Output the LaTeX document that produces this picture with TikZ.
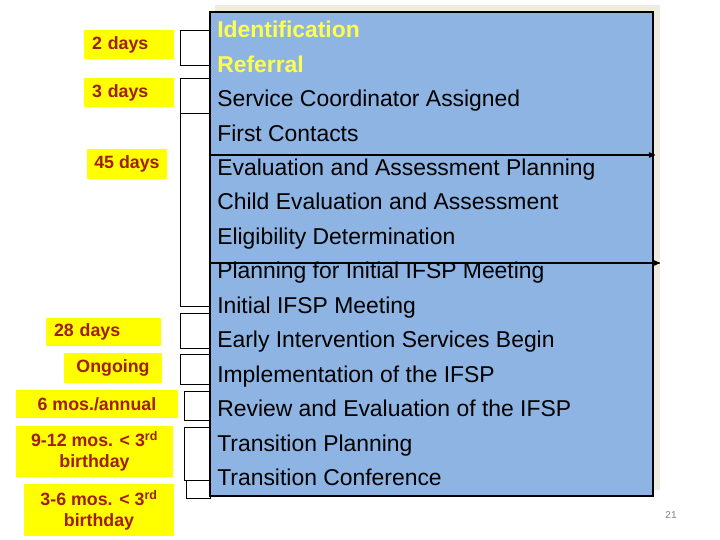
\documentclass[tikz,border=0pt]{standalone}
\usepackage{fontspec}
\setmainfont{Liberation Sans}
\usetikzlibrary{arrows}
\definecolor{chartblue}{RGB}{141,180,226}
\definecolor{shadowtan}{RGB}{238,236,225}
\definecolor{tagyellow}{RGB}{255,255,0}
\definecolor{tagred}{RGB}{160,30,16}
\definecolor{headyellow}{RGB}{255,255,80}
\newcommand{\rd}{\textsuperscript{rd}}

\begin{document}
\begin{tikzpicture}[x=1pt,y=-1pt,->,>=stealth',semithick,
  tag/.style={fill=tagyellow,text=tagred,font=\fontsize{17.8}{21}\selectfont\bfseries,inner sep=0pt},
  stepline/.style={anchor=base west,inner sep=0pt,font=\fontsize{22.9}{27}\selectfont},
  headline/.style={stepline,text=headyellow,font=\fontsize{22.9}{27}\selectfont\bfseries},
  bracket/.style={-,line width=1pt}]
\useasboundingbox (0,0) rectangle (720,540);

\fill[shadowtan] (215,5) rectangle (660,490);

\draw[bracket] (180,31) rectangle (210,66);
\draw[bracket] (180,79) rectangle (210,114);
\draw[bracket] (180,114) rectangle (210,306);
\draw[bracket] (180,313) rectangle (210,348);
\draw[bracket] (180,354) rectangle (210,384);
\draw[bracket] (184,391) rectangle (210,420);
\draw[bracket] (184,427) rectangle (210,480);
\draw[bracket] (186,480) rectangle (210,498);

\node[draw,line width=2pt,fill=chartblue,minimum width=443pt,minimum height=484pt,inner sep=0pt](chart) at (431.5,254) {};

\node[tag,minimum width=90pt,minimum height=29pt,text width=74pt,align=left](d2) at (129,44.5) {2 days};
\node[tag,minimum width=90pt,minimum height=29pt,text width=74pt,align=left](d3) at (129,92.5) {3 days};
\node[tag,minimum width=80pt,minimum height=30pt,align=center](d45) at (127,164) {45 days};
\node[tag,minimum width=115pt,minimum height=28pt,text width=99pt,align=left](d28) at (103.5,332) {28 days};
\node[tag,minimum width=98pt,minimum height=30pt,align=center](ongo) at (113,368) {Ongoing};
\node[tag,minimum width=162pt,minimum height=28pt,align=center](annual) at (97,404) {6 mos./annual};
\node[tag,minimum width=157pt,minimum height=51pt,align=center](m912) at (94.5,451.5) {9-12 mos. < 3\rd\\birthday};
\node[tag,minimum width=150pt,minimum height=52pt,align=center](m36) at (99,510) {3-6 mos. < 3\rd\\birthday};

\node[headline](s1) at (217,37.7) {Identification};
\node[headline](s2) at (217,72.2) {Referral};
\node[stepline](s3) at (217,106.6) {Service Coordinator Assigned};
\node[stepline](s4) at (217,141.1) {First Contacts};
\node[stepline](s5) at (217,175.5) {Evaluation and Assessment Planning};
\node[stepline](s6) at (217,210.0) {Child Evaluation and Assessment};
\node[stepline](s7) at (217,244.5) {Eligibility Determination};
\node[stepline](s8) at (217,278.9) {Planning for Initial IFSP Meeting};
\node[stepline](s9) at (217,313.4) {Initial IFSP Meeting};
\node[stepline](s10) at (217,347.8) {Early Intervention Services Begin};
\node[stepline](s11) at (217,382.3) {Implementation of the IFSP};
\node[stepline](s12) at (217,416.8) {Review and Evaluation of the IFSP};
\node[stepline](s13) at (217,451.2) {Transition Planning};
\node[stepline](s14) at (217,485.7) {Transition Conference};

\coordinate (evalend) at (655,155);
\coordinate (planend) at (660,263);
\draw[line width=1.2pt] (chart.west |- evalend) -- (evalend);
\draw[line width=1.2pt] (chart.west |- planend) -- (planend);

\node[text=gray,font=\fontsize{10}{12}\selectfont](pagenum) at (671,515) {21};

\end{tikzpicture}
\end{document}
